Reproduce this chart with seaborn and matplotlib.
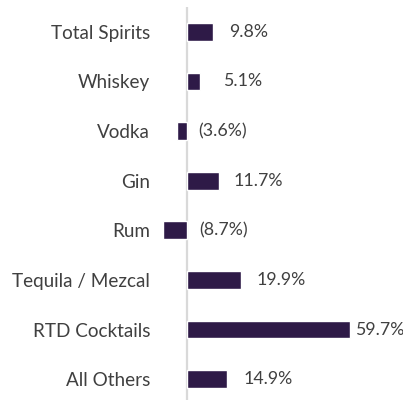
import matplotlib
matplotlib.use("Agg")
import matplotlib.pyplot as plt
import seaborn as sns
import pandas as pd

# Category growth rates (%)
categories = ["Total Spirits", "Whiskey", "Vodka", "Gin", "Rum",
              "Tequila / Mezcal", "RTD Cocktails", "All Others"]
growth = [9.8, 5.1, -3.6, 11.7, -8.7, 19.9, 59.7, 14.9]

# Horizontal nudge (points) of each value label from the bar end / zero line
label_pad = [11, 16.5, 8.5, 10.5, 9.5, 11.5, 3.5, 11.5]

BAR = "#2e1a47"
TEXT = "#404040"

sns.set_theme(style="white")
plt.rcParams["font.family"] = ["Lato", "DejaVu Sans"]

df = pd.DataFrame({"category": categories, "growth": growth})

W, H = 403, 400
fig = plt.figure(figsize=(W / 100, H / 100), dpi=100)

xmin, xmax = -13.0, 75.0
px_per_unit = 2.74
zero_px = 186.5
left_px = zero_px + xmin * px_per_unit
width_px = (xmax - xmin) * px_per_unit
top_px, bottom_px = 7.0, 404.0
ax = fig.add_axes([left_px / W, 1 - bottom_px / H, width_px / W, (bottom_px - top_px) / H])

sns.barplot(data=df, x="growth", y="category", orient="h", color=BAR,
            saturation=1, width=0.36, ax=ax)

ax.set_xlim(xmin, xmax)
ax.set_ylim(len(categories) - 0.5, -0.5)
ax.axvline(0, color="#d9d9d9", lw=1.6, zorder=0)

for i, (v, p) in enumerate(zip(growth, label_pad)):
    txt = f"{v:.1f}%" if v >= 0 else f"({abs(v):.1f}%)"
    ax.annotate(txt, xy=(max(v, 0), i), xytext=(p, 0), textcoords="offset points",
                ha="left", va="center", fontsize=12.8, color=TEXT)

ax.set_xlabel("")
ax.set_ylabel("")
ax.set_xticks([])
ax.tick_params(axis="y", length=0, pad=0.5, labelsize=13.6, labelcolor=TEXT)
for s in ax.spines.values():
    s.set_visible(False)
ax.patch.set_alpha(0)

fig.savefig("out.png", dpi=100, facecolor="white")
